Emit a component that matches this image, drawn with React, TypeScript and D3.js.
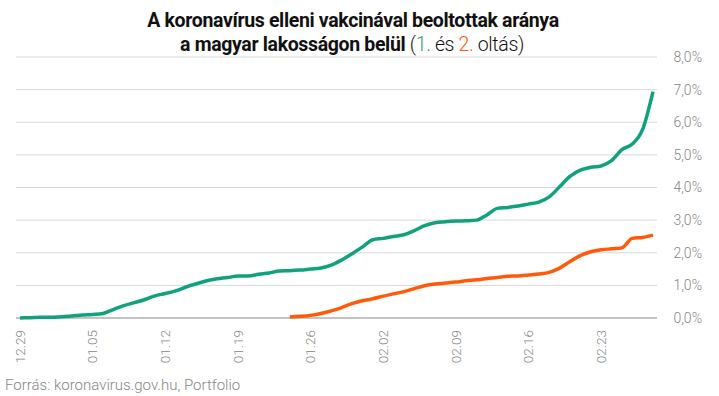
import { useEffect, useRef } from 'react'
import * as d3 from 'd3'

const W = 719, H = 396

const dates = [
  '12.29', '12.30', '12.31', '01.01', '01.02', '01.03', '01.04',
  '01.05', '01.06', '01.07', '01.08', '01.09', '01.10', '01.11',
  '01.12', '01.13', '01.14', '01.15', '01.16', '01.17', '01.18',
  '01.19', '01.20', '01.21', '01.22', '01.23', '01.24', '01.25',
  '01.26', '01.27', '01.28', '01.29', '01.30', '01.31', '02.01',
  '02.02', '02.03', '02.04', '02.05', '02.06', '02.07', '02.08',
  '02.09', '02.10', '02.11', '02.12', '02.13', '02.14', '02.15',
  '02.16', '02.17', '02.18', '02.19', '02.20', '02.21', '02.22',
  '02.23', '02.24', '02.25', '02.26', '02.27', '02.28',
]

// 1. oltás (%)
const firstDose = [
  0.0, 0.01, 0.02, 0.02, 0.04, 0.06, 0.09,
  0.11, 0.14, 0.26, 0.38, 0.47, 0.56, 0.68,
  0.75, 0.83, 0.95, 1.05, 1.14, 1.2, 1.24,
  1.29, 1.29, 1.34, 1.38, 1.44, 1.45, 1.47,
  1.5, 1.53, 1.62, 1.78, 1.97, 2.18, 2.4,
  2.44, 2.5, 2.55, 2.68, 2.83, 2.92, 2.95,
  2.97, 2.98, 3.0, 3.16, 3.36, 3.39, 3.43,
  3.49, 3.55, 3.71, 4.02, 4.34, 4.53, 4.62,
  4.66, 4.82, 5.16, 5.33, 5.78, 6.94,
]

// 2. oltás (%)
const secondDose: (number | null)[] = [
  null, null, null, null, null, null, null,
  null, null, null, null, null, null, null,
  null, null, null, null, null, null, null,
  null, null, null, null, null, 0.03, 0.05,
  0.08, 0.14, 0.22, 0.32, 0.44, 0.53, 0.59,
  0.67, 0.74, 0.81, 0.9, 0.99, 1.04, 1.07,
  1.1, 1.14, 1.17, 1.21, 1.24, 1.28, 1.29,
  1.32, 1.35, 1.4, 1.53, 1.73, 1.91, 2.03,
  2.09, 2.12, 2.15, 2.44, 2.47, 2.54,
]

const yTicks = [0, 1, 2, 3, 4, 5, 6, 7, 8]
const xTickLabels = ['12.29', '01.05', '01.12', '01.19', '01.26', '02.02', '02.09', '02.16', '02.23']

const GREEN = '#10a27c'
const ORANGE = '#ff5a0a'
const FONT = 'Roboto, sans-serif'
const GREY = '#858585'

export default function App() {
  const ref = useRef<SVGSVGElement>(null)

  useEffect(() => {
    const svg = d3.select(ref.current!)
    svg.selectAll('*').remove()

    const x = d3.scalePoint<string>().domain(dates).range([20, 653])
    const y = d3.scaleLinear().domain([0, 8]).range([318, 57])

    // Title
    svg.append('text')
      .attr('x', 353).attr('y', 27).attr('text-anchor', 'middle')
      .attr('font-family', FONT).attr('font-size', 19.5).attr('fill', '#111')
      .attr('font-weight', 'bold').attr('letter-spacing', -0.35)
      .text('A koronavírus elleni vakcinával beoltottak aránya')
    const l2 = svg.append('text')
      .attr('x', 352).attr('y', 51).attr('text-anchor', 'middle')
      .attr('font-family', FONT).attr('font-size', 19.5).attr('fill', '#111')
      .attr('letter-spacing', -0.35)
    l2.append('tspan').attr('font-weight', 'bold').text('a magyar lakosságon belül ')
    l2.append('tspan').attr('font-weight', 300).text('(')
    l2.append('tspan').attr('font-weight', 300).attr('fill', GREEN).text('1.')
    l2.append('tspan').attr('font-weight', 300).text(' és ')
    l2.append('tspan').attr('font-weight', 300).attr('fill', ORANGE).text('2.')
    l2.append('tspan').attr('font-weight', 300).text(' oltás)')

    // Grid + right axis labels
    const grid = svg.append('g')
    yTicks.forEach(t => {
      grid.append('line')
        .attr('x1', 16).attr('x2', 657)
        .attr('y1', y(t)).attr('y2', y(t))
        .attr('stroke', t === 0 ? '#888' : '#d8d8d8')
        .attr('stroke-width', t === 0 ? 1.2 : 1)
      grid.append('text')
        .attr('x', 702).attr('y', y(t)).attr('dy', '0.35em')
        .attr('text-anchor', 'end')
        .attr('font-family', FONT).attr('font-size', 14).attr('font-weight', 300)
        .attr('fill', GREY)
        .text(`${t.toFixed(1).replace('.', ',')}%`)
    })

    // X labels (rotated)
    const xg = svg.append('g')
    xTickLabels.forEach(d => {
      const px = x(d)!
      xg.append('text')
        .attr('transform', `translate(${px},330) rotate(-90)`)
        .attr('text-anchor', 'end').attr('dy', '0.35em')
        .attr('font-family', FONT).attr('font-size', 13.5).attr('font-weight', 300)
        .attr('fill', GREY)
        .text(d)
    })

    const line = d3.line<number | null>()
      .defined(v => v != null)
      .x((_, i) => x(dates[i])!)
      .y(v => y(v as number))
      .curve(d3.curveMonotoneX)

    svg.append('path').datum(secondDose)
      .attr('fill', 'none').attr('stroke', ORANGE).attr('stroke-width', 3.5)
      .attr('stroke-linejoin', 'round')
      .attr('d', line)

    svg.append('path').datum(firstDose)
      .attr('fill', 'none').attr('stroke', GREEN).attr('stroke-width', 3.5)
      .attr('stroke-linejoin', 'round')
      .attr('d', line as any)

    // Source
    svg.append('text')
      .attr('x', 5).attr('y', 390)
      .attr('font-family', FONT).attr('font-size', 15).attr('font-weight', 300)
      .attr('fill', GREY)
      .text('Forrás: koronavirus.gov.hu, Portfolio')
  }, [])

  return (
    <svg
      ref={ref}
      width={W}
      height={H}
      style={{ position: 'absolute', left: 0, top: 0, background: '#fff' }}
    />
  )
}
